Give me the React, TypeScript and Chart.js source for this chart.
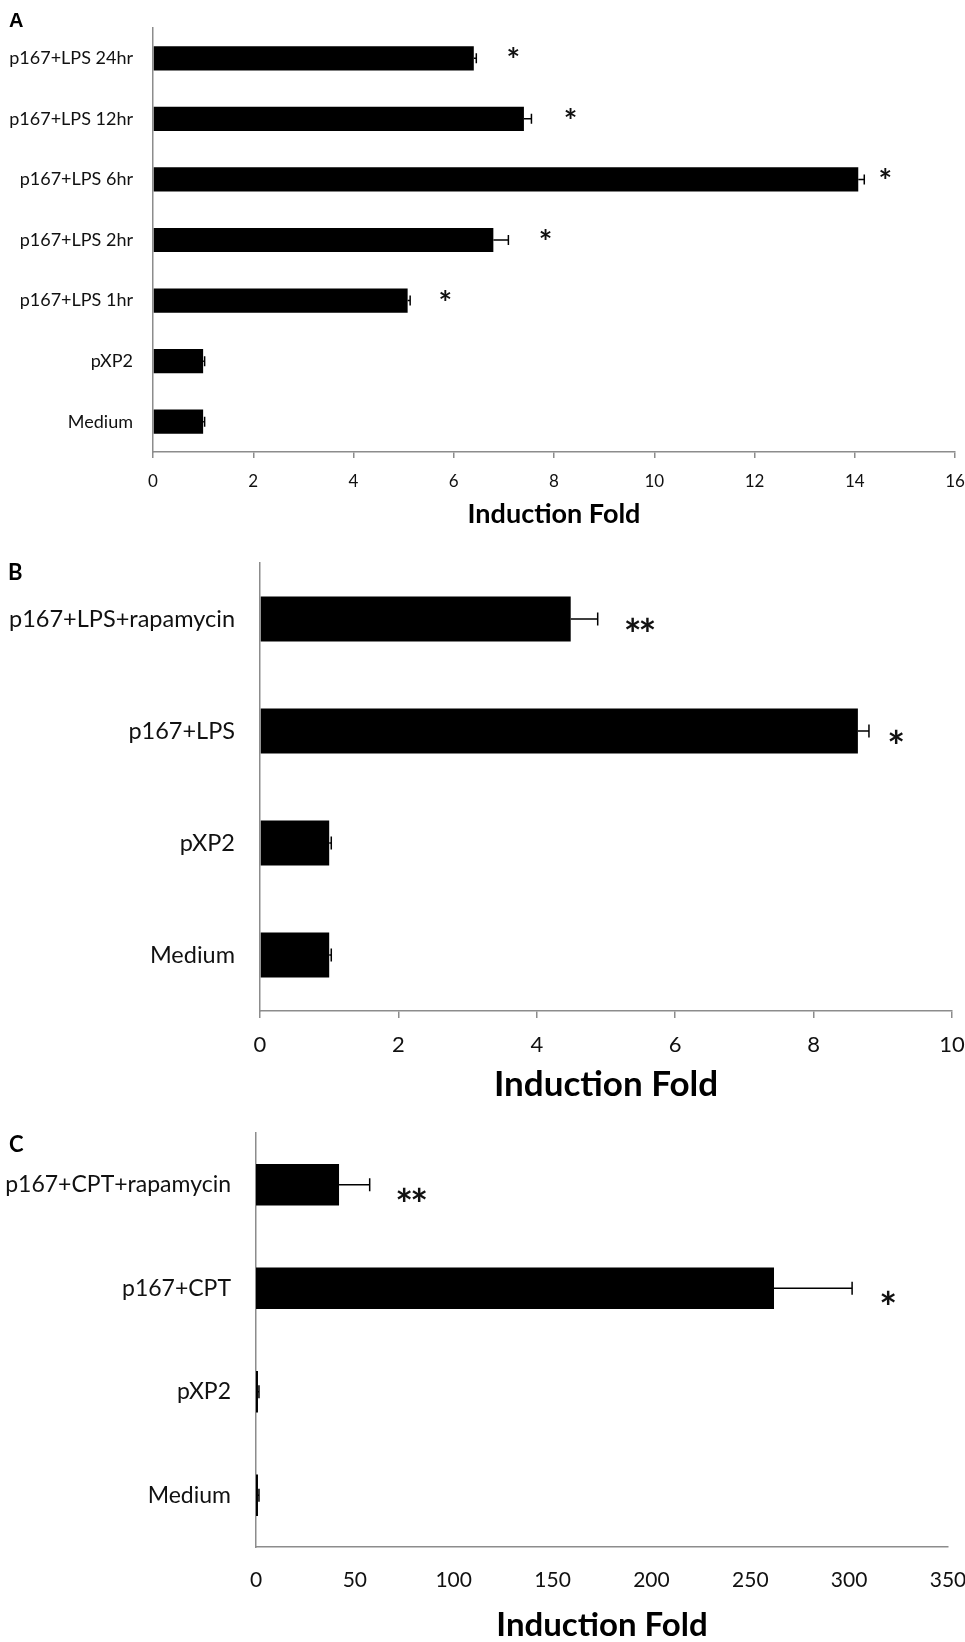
import React, { useEffect, useRef } from "react";
import { Chart, registerables } from "chart.js";

Chart.register(...registerables);

const FONT = "Lato, 'Open Sans', sans-serif";
const AXIS_GRAY = "#8c8c8c";
const TEXT = "#111";

// ---------- Panel A ----------
const labelsA = [
  "p167+LPS 24hr",
  "p167+LPS 12hr",
  "p167+LPS 6hr",
  "p167+LPS 2hr",
  "p167+LPS 1hr",
  "pXP2",
  "Medium",
];
const valuesA = [6.4, 7.4, 14.07, 6.79, 5.08, 1.0, 1.0];
const errorsA = [0.05, 0.15, 0.12, 0.3, 0.05, 0.03, 0.03];
const sigA = ["*", "*", "*", "*", "*", "", ""];
const sigPosA = [7.16, 8.3, 14.58, 7.8, 5.8, 0, 0];
const maxA = 16;
const stepA = 2;

// ---------- Panel B ----------
const labelsB = ["p167+LPS+rapamycin", "p167+LPS", "pXP2", "Medium"];
const valuesB = [4.49, 8.64, 1.0, 1.0];
const errorsB = [0.39, 0.16, 0.03, 0.03];
const sigB = ["**", "*", "", ""];
const sigPosB = [5.47, 9.17, 0, 0];
const maxB = 10;
const stepB = 2;

// ---------- Panel C ----------
const labelsC = ["p167+CPT+rapamycin", "p167+CPT", "pXP2", "Medium"];
const valuesC = [42, 262, 1, 1];
const errorsC = [15.5, 39.5, 0.5, 0.5];
const sigC = ["**", "*", "", ""];
const sigPosC = [78, 319, 0, 0];
const maxC = 350;
const stepC = 50;

const axisTitle = "Induction Fold";

type PanelCfg = {
  letter: string;
  letterFont: string;
  letterX: number;
  letterY: number;
  top: number;
  height: number;
  labels: string[];
  values: number[];
  errors: number[];
  sig: string[];
  sigPos: number[];
  max: number;
  step: number;
  yWidth: number;
  xHeight: number;
  padTop: number;
  padRight: number;
  labelFont: number;
  labelPad: number;
  tickFont: number;
  tickPad: number;
  tickLen: number;
  titleFont: number;
  titlePad: number;
  capH: number;
  sigFont: number;
  sigDy: number;
};

const panels: PanelCfg[] = [
  {
    letter: "A",
    letterFont: "bold 20px 'Liberation Sans', Arial, sans-serif",
    letterX: 9,
    letterY: 27,
    top: 0,
    height: 540,
    labels: labelsA,
    values: valuesA,
    errors: errorsA,
    sig: sigA,
    sigPos: sigPosA,
    max: maxA,
    step: stepA,
    yWidth: 153,
    xHeight: 88,
    padTop: 28,
    padRight: 10,
    labelFont: 18,
    labelPad: 20,
    tickFont: 17,
    tickPad: 13,
    tickLen: 6,
    titleFont: 27,
    titlePad: 12.5,
    capH: 10,
    sigFont: 32,
    sigDy: 14,
  },
  {
    letter: "B",
    letterFont: `bold 22px ${FONT}`,
    letterX: 8,
    letterY: 40,
    top: 540,
    height: 565,
    labels: labelsB,
    values: valuesB,
    errors: errorsB,
    sig: sigB,
    sigPos: sigPosB,
    max: maxB,
    step: stepB,
    yWidth: 260,
    xHeight: 94,
    padTop: 23,
    padRight: 13,
    labelFont: 23.5,
    labelPad: 25,
    tickFont: 22,
    tickPad: 14,
    tickLen: 7,
    titleFont: 35,
    titlePad: 3,
    capH: 13,
    sigFont: 42,
    sigDy: 31,
  },
  {
    letter: "C",
    letterFont: `bold 22px ${FONT}`,
    letterX: 9,
    letterY: 47,
    top: 1105,
    height: 537,
    labels: labelsC,
    values: valuesC,
    errors: errorsC,
    sig: sigC,
    sigPos: sigPosC,
    max: maxC,
    step: stepC,
    yWidth: 256,
    xHeight: 95,
    padTop: 28,
    padRight: 17,
    labelFont: 23,
    labelPad: 25,
    tickFont: 21,
    tickPad: 21,
    tickLen: 0,
    titleFont: 33,
    titlePad: 0,
    capH: 13,
    sigFont: 42,
    sigDy: 35,
  },
];

function makeOverlay(cfg: PanelCfg) {
  return {
    id: "overlay" + cfg.letter,
    afterDatasetsDraw(chart: any) {
      const ctx = chart.ctx as CanvasRenderingContext2D;
      const xs = chart.scales.x;
      const meta = chart.getDatasetMeta(0);
      ctx.save();
      ctx.strokeStyle = "#000";
      ctx.lineWidth = 1.5;
      meta.data.forEach((bar: any, i: number) => {
        const y = bar.y;
        const x0 = xs.getPixelForValue(cfg.values[i]);
        const x1 = xs.getPixelForValue(cfg.values[i] + cfg.errors[i]);
        ctx.beginPath();
        ctx.moveTo(x0, y);
        ctx.lineTo(x1, y);
        ctx.moveTo(x1, y - cfg.capH / 2);
        ctx.lineTo(x1, y + cfg.capH / 2);
        ctx.stroke();
        if (cfg.sig[i]) {
          ctx.fillStyle = TEXT;
          ctx.font = `bold ${cfg.sigFont}px ${FONT}`;
          (ctx as any).letterSpacing = "-3px";
          ctx.textAlign = "center";
          ctx.textBaseline = "alphabetic";
          ctx.fillText(cfg.sig[i], xs.getPixelForValue(cfg.sigPos[i]), y + cfg.sigDy);
          (ctx as any).letterSpacing = "0px";
        }
      });
      ctx.fillStyle = "#000";
      ctx.font = cfg.letterFont;
      ctx.textAlign = "left";
      ctx.textBaseline = "alphabetic";
      ctx.fillText(cfg.letter, cfg.letterX, cfg.letterY);
      ctx.restore();
    },
  };
}

function Panel({ cfg }: { cfg: PanelCfg }) {
  const ref = useRef<HTMLCanvasElement>(null);
  useEffect(() => {
    const canvas = ref.current;
    if (!canvas) return;
    const chart = new Chart(canvas, {
      type: "bar",
      data: {
        labels: cfg.labels,
        datasets: [
          {
            data: cfg.values,
            backgroundColor: "#000",
            borderWidth: 0,
            barPercentage: 0.4,
            categoryPercentage: 1,
          },
        ],
      },
      options: {
        indexAxis: "y",
        responsive: false,
        animation: false,
        devicePixelRatio: 1,
        layout: {
          padding: { top: cfg.padTop, right: cfg.padRight, left: 0, bottom: 0 },
        },
        plugins: {
          legend: { display: false },
          tooltip: { enabled: false },
        },
        scales: {
          x: {
            type: "linear",
            min: 0,
            max: cfg.max,
            afterFit: (scale: any) => {
              scale.height = cfg.xHeight;
              scale.paddingLeft = 0;
              scale.paddingRight = 0;
            },
            ticks: {
              stepSize: cfg.step,
              autoSkip: false,
              maxRotation: 0,
              padding: cfg.tickPad,
              color: TEXT,
              font: { family: FONT, size: cfg.tickFont },
            },
            grid: {
              display: cfg.tickLen > 0,
              drawOnChartArea: false,
              drawTicks: cfg.tickLen > 0,
              tickLength: cfg.tickLen,
              color: AXIS_GRAY,
              lineWidth: 1.5,
            },
            border: { display: true, color: AXIS_GRAY, width: 1.5 },
            title: {
              display: true,
              text: axisTitle,
              color: "#000",
              font: { family: FONT, size: cfg.titleFont, weight: "bold", lineHeight: 1 },
              padding: { top: 0, bottom: cfg.titlePad },
            },
          },
          y: {
            type: "category",
            afterFit: (scale: any) => {
              scale.width = cfg.yWidth;
              scale.paddingTop = 0;
              scale.paddingBottom = 0;
            },
            ticks: {
              autoSkip: false,
              padding: cfg.labelPad,
              color: TEXT,
              font: { family: FONT, size: cfg.labelFont },
            },
            grid: { display: false, drawTicks: false },
            border: { display: true, color: AXIS_GRAY, width: 1.5 },
          },
        },
      } as any,
      plugins: [makeOverlay(cfg)],
    });
    return () => chart.destroy();
  }, [cfg]);
  return (
    <canvas
      ref={ref}
      width={965}
      height={cfg.height}
      style={{ position: "absolute", left: 0, top: cfg.top, width: 965, height: cfg.height }}
    />
  );
}

export default function App() {
  return (
    <div
      style={{
        position: "absolute",
        left: 0,
        top: 0,
        width: 965,
        height: 1642,
        background: "#fff",
        overflow: "hidden",
      }}
    >
      {panels.map((p) => (
        <Panel key={p.letter} cfg={p} />
      ))}
    </div>
  );
}
